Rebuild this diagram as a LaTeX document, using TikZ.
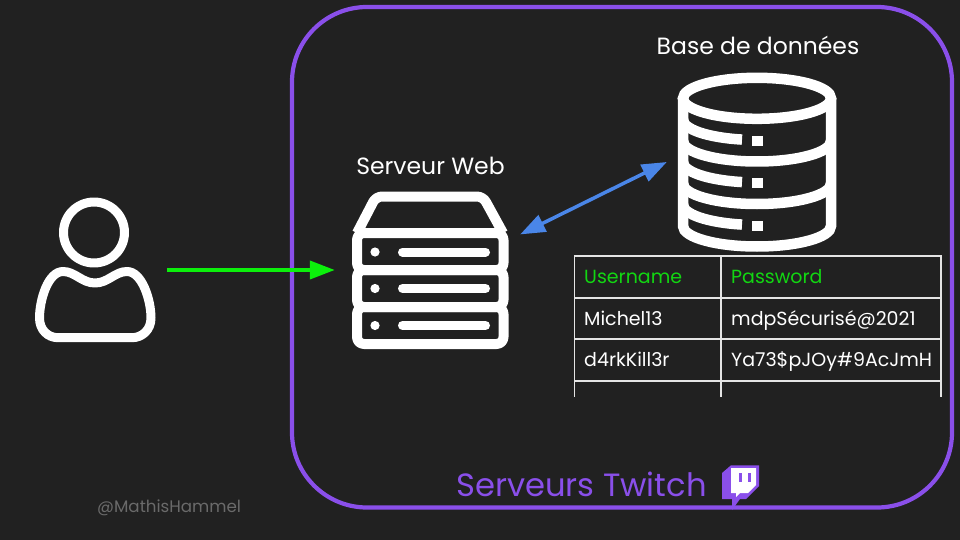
\documentclass[tikz,border=0pt]{standalone}
\usepackage{fontspec}
\usepackage{xcolor}
\setmainfont{Poppins}
\usetikzlibrary{arrows.meta, positioning, calc}
\definecolor{bgdark}{HTML}{212121}
\definecolor{twitchpurple}{HTML}{8A4FEA}
\definecolor{arrowgreen}{HTML}{0CF00C}
\definecolor{headgreen}{HTML}{12D612}
\definecolor{linkblue}{HTML}{4A86E8}
\definecolor{tablegrey}{HTML}{E4E4E4}
\definecolor{markgrey}{HTML}{6A6A6A}
\tikzset{
  iconline/.style={draw=white, line width=9pt, line join=round},
  serverline/.style={draw=white, line width=10pt, line join=round},
  slot/.style={white, line width=9pt, line cap=round},
  dbline/.style={draw=white, line width=10.5pt},
  tableline/.style={tablegrey, line width=1.8pt},
  area/.style={minimum width=#1, inner sep=0pt, rectangle},
  title/.style={white, font=\fontsize{23.5}{24}\selectfont, anchor=base, inner sep=0pt},
  cell/.style={white, font=\fontsize{19}{19}\selectfont, anchor=base west, inner sep=0pt},
  headcell/.style={cell, text=headgreen},
}
\begin{document}
\begin{tikzpicture}[x=1pt, y=-1pt]
\useasboundingbox (0,0) rectangle (960,540);
\fill[bgdark] (0,0) rectangle (960,540);

% Zone of the Twitch servers
\draw[twitchpurple, line width=4.2pt, rounded corners=75pt] (292,7) rectangle (952,507.5);
\node[text=twitchpurple, font=\fontsize{32.2}{32}\selectfont, anchor=base west, inner sep=0pt] (zonelabel) at (456,496) {Serveurs Twitch};

% Twitch logo
\fill[twitchpurple] (731,465.3) -- (759,465.3) -- (759,486) -- (746,499) -- (740,499) -- (732,510) -- (732,499) -- (722,499) -- (722,473) -- cycle;
\fill[white] (731,468) -- (756,468) -- (756,485) -- (748,493) -- (740,493) -- (736,497) -- (736,493) -- (731,493) -- cycle;
\fill[twitchpurple] (739,473) rectangle (742,482);
\fill[twitchpurple] (748,473) rectangle (751,482);

% Invisible areas of the three icons, for the connectors
\node[area=144pt, minimum height=144pt] (user) at (95,270) {};
\node[area=185pt, minimum height=156pt] (server) at (427.5,270) {};
\node[area=180pt, minimum height=180pt] (db) at (757,162) {};

% User
\draw[iconline] (94,232.5) circle (30.5);
\draw[iconline] (95,283) .. controls (82,283) and (75,271.5) .. (63,271.5)
  .. controls (48,271.5) and (39.5,300) .. (39.5,318)
  .. controls (39.5,330) and (48,337.7) .. (58,337.7) -- (132,337.7)
  .. controls (142,337.7) and (151,330) .. (151,318)
  .. controls (151,300) and (142,271.5) .. (127,271.5)
  .. controls (115,271.5) and (108,283) .. (95,283) -- cycle;

% Web server
\node[title] (serverlabel) at (430.5,175) {Serveur Web};
\draw[serverline, rounded corners=6pt] (357,233) -- (376,196.5) -- (483,196.5) -- (503,233);
\draw[serverline, rounded corners=7pt] (357,233) rectangle (503.5,270);
\draw[serverline, rounded corners=7pt] (357,270) rectangle (503.5,307);
\draw[serverline, rounded corners=7pt] (357,307) rectangle (503.5,344);
\fill[white] (375,252) circle (4.6);
\fill[white] (375,288.5) circle (4.6);
\fill[white] (375,325.5) circle (4.6);
\draw[slot] (402.5,252) -- (485.5,252);
\draw[slot] (402.5,288.5) -- (485.5,288.5);
\draw[slot] (402.5,325.5) -- (485.5,325.5);

% Database
\node[title] (dblabel) at (758,55) {Base de données};
\draw[dbline] (757,98.3) ellipse [x radius=74, y radius=20.5];
\draw[dbline] (683,98.3) -- (683,226) arc [start angle=180, end angle=0, x radius=74, y radius=20.5] -- (831,98.3);
\draw[dbline] (683,141) arc [start angle=180, end angle=0, x radius=74, y radius=20.5];
\draw[dbline] (683,183.5) arc [start angle=180, end angle=0, x radius=74, y radius=20.5];
\draw[dbline] (683,119.5) arc [start angle=180, end angle=101.7, x radius=74, y radius=20.5];
\draw[dbline] (683,162) arc [start angle=180, end angle=101.7, x radius=74, y radius=20.5];
\draw[dbline] (683,204.5) arc [start angle=180, end angle=101.7, x radius=74, y radius=20.5];
\fill[white] (752,136) rectangle (763,146);
\fill[white] (752,178) rectangle (763,188);
\fill[white] (752,221) rectangle (763,231);

% Connectors
\draw[-{Triangle[length=25pt, width=18pt]}, arrowgreen, line width=3.8pt] (user.east) -- (server.west);
\draw[{Triangle[length=25pt, width=18pt]}-{Triangle[length=25pt, width=18pt]}, linkblue, line width=3.5pt] (server.21) -- (db.west);

% Table
\draw[tableline] (574.5,256) -- (941,256);
\draw[tableline] (574.5,298) -- (941,298);
\draw[tableline] (574.5,339) -- (941,339);
\draw[tableline] (574.5,380.7) -- (941,380.7);
\draw[tableline] (574.5,255) -- (574.5,397);
\draw[tableline] (721,255) -- (721,397);
\draw[tableline] (941,255) -- (941,397);
\node[headcell] (headuser) at (584,283) {Username};
\node[headcell] (headpass) at (731,283) {Password};
\node[cell] (userone) at (584,325) {Michel13};
\node[cell] (passone) at (731,325) {mdpSécurisé@2021};
\node[cell] (usertwo) at (584,366.7) {d4rkKill3r};
\node[cell] (passtwo) at (731,366.7) {Ya73\$pJOy\#9AcJmH};

% Watermark
\node[text=markgrey, font=\fontsize{16.7}{17}\selectfont, anchor=base west, inner sep=0pt] (watermark) at (97,512) {@MathisHammel};
\end{tikzpicture}
\end{document}
